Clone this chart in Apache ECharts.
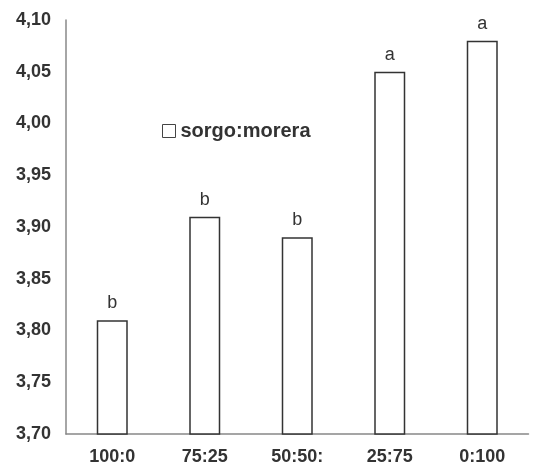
<!DOCTYPE html>
<html><head><meta charset="utf-8">
<script src="https://cdn.jsdelivr.net/npm/echarts@6/dist/echarts.min.js"></script>
<style>html,body{margin:0;padding:0;background:#fff}#c{width:539px;height:466px}</style>
</head><body><div id="c"></div>
<script>
const categories = ['100:0', '75:25', '50:50:', '25:75', '0:100'];
const values = [3.81, 3.91, 3.89, 4.05, 4.08];
const letters = ['b', 'b', 'b', 'a', 'a'];
const seriesName = 'sorgo:morera';

const chart = echarts.init(document.getElementById('c'));
chart.setOption({
  animation: false,
  backgroundColor: '#fff',
  textStyle: { fontFamily: 'Liberation Sans, Arial, sans-serif' },
  legend: {
    left: 162, top: 121, padding: 0,
    itemWidth: 13, itemHeight: 13, itemGap: 7,
    icon: 'rect',
    textStyle: { fontSize: 20, fontWeight: 'bold', color: '#333', fontFamily: 'Liberation Sans, Arial, sans-serif' },
    data: [{ name: seriesName, itemStyle: { color: '#fff', borderColor: '#444', borderWidth: 1 } }]
  },
  grid: { left: 66, right: 10.5, top: 20, bottom: 32, containLabel: false },
  xAxis: {
    type: 'category', data: categories,
    axisLine: { lineStyle: { color: '#888', width: 1.5 } },
    axisTick: { show: false },
    axisLabel: { fontSize: 18, fontWeight: 'bold', color: '#333', margin: 14 }
  },
  yAxis: {
    type: 'value', min: 3.70, max: 4.10, interval: 0.05,
    axisLine: { show: true, lineStyle: { color: '#888', width: 1.5 } },
    axisTick: { show: false },
    splitLine: { show: false },
    axisLabel: {
      fontSize: 18, fontWeight: 'bold', color: '#333', margin: 15,
      formatter: v => v.toFixed(2).replace('.', ',')
    }
  },
  series: [{
    name: seriesName, type: 'bar', data: values, barWidth: 31,
    itemStyle: { color: '#fff', borderColor: '#333', borderWidth: 1.5 },
    label: {
      show: true, position: 'top', distance: 8,
      fontSize: 18, color: '#333',
      formatter: p => letters[p.dataIndex]
    }
  }]
});
</script></body></html>
